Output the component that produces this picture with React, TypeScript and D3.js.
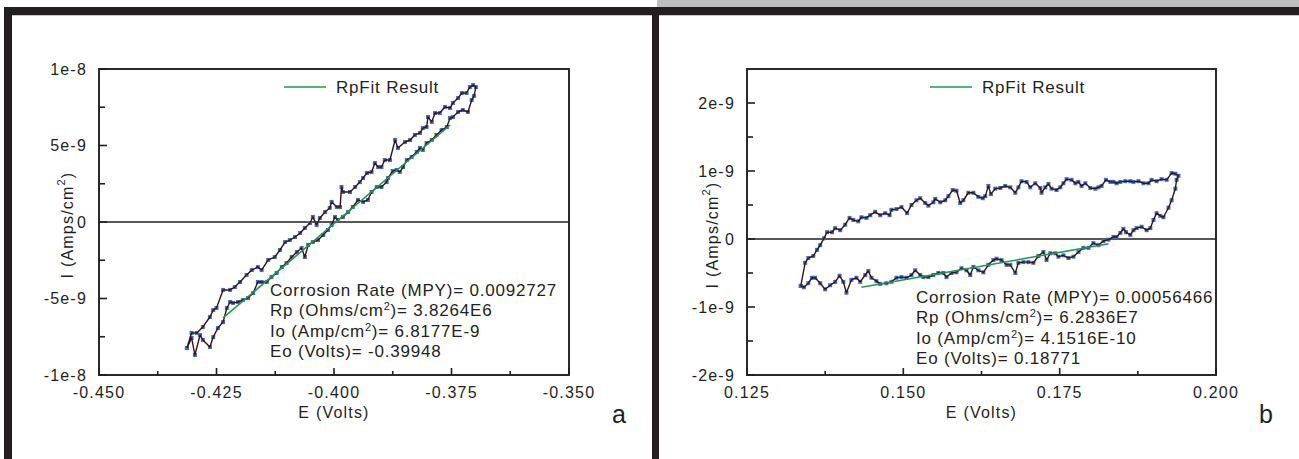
import React from 'react'
import * as d3 from 'd3'

const FONT = '"Liberation Sans", Arial, Helvetica, sans-serif'
const INK = '#231f20'
const TRACE = '#3a1212'
const DOTS = '#3f6cc8'
const FIT = '#1f9a4a'

// panel a: potential (V) and current (nA/cm2), loop
const aVolts = [
  -0.4313, -0.4303, -0.4292, -0.4279, -0.4264, -0.4257, -0.425, -0.4236, -0.4221, -0.4211,
  -0.42, -0.4186, -0.4175, -0.4162, -0.4154, -0.414, -0.4126, -0.4115, -0.4104, -0.4094,
  -0.4083, -0.4072, -0.4062, -0.4051, -0.4045, -0.4037, -0.403, -0.4019, -0.4009, -0.4005,
  -0.3994, -0.3987, -0.3984, -0.3981, -0.3966, -0.3955, -0.3945, -0.3938, -0.393, -0.392,
  -0.3913, -0.3906, -0.3899, -0.3892, -0.3881, -0.387, -0.3864, -0.3849, -0.3838, -0.3828,
  -0.3817, -0.3811, -0.3803, -0.38, -0.3792, -0.3785, -0.3775, -0.3764, -0.3753, -0.3747,
  -0.3736, -0.3728, -0.3718, -0.3711, -0.3704, -0.3698,
  -0.3702, -0.3707, -0.3715, -0.3726, -0.3736, -0.3747, -0.3753, -0.376, -0.3771, -0.3782,
  -0.3792, -0.3803, -0.3811, -0.3817, -0.3824, -0.3835, -0.3845, -0.3853, -0.386, -0.3867,
  -0.3875, -0.3885, -0.3888, -0.3899, -0.3909, -0.392, -0.3928, -0.3938, -0.3949, -0.396,
  -0.397, -0.3981, -0.3992, -0.3998, -0.4005, -0.4013, -0.4023, -0.4034, -0.4045, -0.4055,
  -0.4062, -0.4069, -0.4079, -0.409, -0.4101, -0.4111, -0.4122, -0.4133, -0.4143, -0.4154,
  -0.4162, -0.4172, -0.4183, -0.4194, -0.4204, -0.4215, -0.4221, -0.4228, -0.4236, -0.4247,
  -0.4257, -0.4264, -0.4279, -0.4285, -0.4296, -0.4303, -0.4313,
]
const aCurrent = [
  -8.24, -7.25, -7.25, -6.86, -6.21, -5.75, -5.62, -4.44, -4.44, -4.25,
  -3.92, -3.46, -3.14, -2.94, -3.14, -2.48, -2.29, -1.83, -1.31, -1.18,
  -0.98, -0.72, -0.39, -0.07, 0.33, -0.2, 0.26, 0.65, 0.92, 1.31,
  0.98, 0.98, 2.29, 1.96, 1.96, 2.29, 2.61, 2.88, 3.2, 3.27,
  3.86, 3.59, 3.59, 4.05, 4.05, 5.36, 4.84, 5.23, 5.36, 5.69,
  5.82, 6.14, 6.21, 6.86, 6.54, 7.12, 7.12, 7.52, 7.45, 7.78,
  8.1, 8.43, 8.43, 8.82, 8.95, 8.82,
  8.24, 7.97, 7.19, 7.32, 7.19, 6.86, 6.8, 6.21, 6.01, 5.69,
  5.36, 5.16, 4.71, 4.84, 4.58, 4.25, 4.05, 3.59, 3.27, 3.4,
  3.33, 2.88, 2.61, 2.29, 2.29, 1.96, 1.44, 1.31, 1.44, 0.98,
  0.65, 0.33, 0.13, 0.33, -0.2, -0.52, -0.85, -1.18, -1.31, -1.5,
  -2.29, -1.7, -1.96, -2.29, -2.68, -2.94, -3.33, -3.59, -3.92, -3.92,
  -3.92, -4.64, -4.97, -5.1, -5.23, -5.29, -5.23, -5.62, -6.54, -6.93,
  -7.52, -8.17, -7.71, -7.39, -8.69, -7.58, -8.24,
]
const aFitVolts = [-0.4236, -0.3753]
const aFitCurrent = [-6.27, 6.34]
const aXTicks = [-0.45, -0.425, -0.4, -0.375, -0.35]
const aXLabels = ['-0.450', '-0.425', '-0.400', '-0.375', '-0.350']
const aYTicks = [-10, -5, 0, 5, 10]
const aYLabels = ['-1e-8', '-5e-9', '0', '5e-9', '1e-8']
const aNotes = [
  ['Corrosion Rate (MPY)= 0.0092727'],
  ['Rp (Ohms/cm', '2', ')= 3.8264E6'],
  ['Io (Amp/cm', '2', ')= 6.8177E-9'],
  ['Eo (Volts)= -0.39948'],
]

// panel b
const bVolts = [
  0.1336, 0.1343, 0.1348, 0.1356, 0.1362, 0.1367, 0.1373, 0.1378, 0.1386, 0.1391,
  0.1399, 0.1407, 0.1414, 0.142, 0.1428, 0.1433, 0.1441, 0.1447, 0.1455, 0.1463,
  0.1471, 0.1478, 0.1481, 0.1489, 0.1497, 0.1506, 0.1513, 0.1521, 0.1527, 0.1535,
  0.154, 0.1548, 0.1551, 0.1559, 0.1567, 0.1572, 0.1579, 0.1585, 0.1591, 0.1596,
  0.1604, 0.1612, 0.162, 0.1627, 0.1631, 0.1636, 0.164, 0.1647, 0.1655, 0.1663,
  0.1671, 0.1679, 0.1684, 0.1689, 0.1697, 0.1703, 0.1711, 0.1719, 0.1721, 0.1727,
  0.1732, 0.1737, 0.1745, 0.1751, 0.1756, 0.1761, 0.1769, 0.1775, 0.178, 0.1785,
  0.1791, 0.1799, 0.1807, 0.1812, 0.1817, 0.1824, 0.1831, 0.1836, 0.1841, 0.1847,
  0.1855, 0.1863, 0.1868, 0.1876, 0.1884, 0.1892, 0.1897, 0.1905, 0.1913, 0.1921,
  0.1929, 0.1935, 0.194,
  0.1937, 0.1935, 0.1929, 0.1924, 0.1916, 0.1911, 0.1905, 0.19, 0.1895, 0.1889,
  0.1881, 0.1873, 0.1868, 0.1863, 0.1856, 0.1852, 0.1847, 0.1841, 0.1836, 0.1828,
  0.182, 0.1812, 0.1804, 0.1796, 0.1788, 0.178, 0.1772, 0.1764, 0.1756, 0.1748,
  0.1743, 0.1735, 0.1729, 0.1724, 0.1716, 0.1708, 0.17, 0.1692, 0.1684, 0.1679,
  0.1671, 0.1665, 0.1657, 0.1649, 0.1644, 0.1636, 0.1628, 0.162, 0.1612, 0.1607,
  0.1601, 0.1593, 0.1585, 0.1577, 0.1569, 0.1564, 0.1556, 0.1548, 0.154, 0.1532,
  0.1527, 0.1519, 0.1513, 0.1505, 0.1497, 0.1489, 0.1481, 0.1473, 0.1463, 0.1457,
  0.1449, 0.1444, 0.1439, 0.1431, 0.1425, 0.1417, 0.1409, 0.1404, 0.1398, 0.1391,
  0.1383, 0.1375, 0.1367, 0.1359, 0.1354, 0.1348, 0.1341, 0.1336,
]
const bCurrent = [
  -0.69, -0.35, -0.28, -0.25, -0.16, -0.09, 0.01, 0.1, 0.1, 0.16,
  0.13, 0.21, 0.31, 0.28, 0.26, 0.32, 0.31, 0.35, 0.4, 0.35,
  0.38, 0.35, 0.43, 0.44, 0.47, 0.38, 0.5, 0.57, 0.6, 0.53,
  0.49, 0.54, 0.59, 0.54, 0.57, 0.63, 0.72, 0.71, 0.53, 0.57,
  0.68, 0.68, 0.62, 0.6, 0.63, 0.78, 0.66, 0.74, 0.75, 0.78,
  0.76, 0.68, 0.76, 0.85, 0.84, 0.76, 0.82, 0.75, 0.68, 0.76,
  0.81, 0.74, 0.72, 0.76, 0.82, 0.88, 0.87, 0.82, 0.84, 0.78,
  0.82, 0.75, 0.74, 0.76, 0.78, 0.87, 0.84, 0.84, 0.82, 0.84,
  0.85, 0.85, 0.84, 0.85, 0.82, 0.82, 0.87, 0.85, 0.88, 0.87,
  0.97, 0.96, 0.93,
  0.87, 0.74, 0.57, 0.46, 0.32, 0.34, 0.38, 0.28, 0.16, 0.13,
  0.18, 0.16, 0.13, 0.06, 0.1, 0.15, 0.09, 0.03, 0.03, -0.01,
  -0.03, -0.09, -0.06, -0.13, -0.13, -0.19, -0.26, -0.28, -0.24, -0.26,
  -0.21, -0.21, -0.31, -0.19, -0.25, -0.35, -0.34, -0.34, -0.35, -0.5,
  -0.38, -0.38, -0.31, -0.29, -0.31, -0.38, -0.49, -0.46, -0.41, -0.53,
  -0.46, -0.43, -0.49, -0.5, -0.56, -0.5, -0.5, -0.53, -0.56, -0.56,
  -0.53, -0.46, -0.53, -0.57, -0.56, -0.57, -0.63, -0.65, -0.66, -0.62,
  -0.57, -0.47, -0.53, -0.63, -0.57, -0.6, -0.79, -0.63, -0.54, -0.63,
  -0.68, -0.74, -0.65, -0.57, -0.57, -0.65, -0.71, -0.69,
]
const bFitVolts = [0.1433, 0.1828]
const bFitCurrent = [-0.71, -0.07]
const bXTicks = [0.125, 0.15, 0.175, 0.2]
const bXLabels = ['0.125', '0.150', '0.175', '0.200']
const bYTicks = [-2, -1, 0, 1, 2]
const bYLabels = ['-2e-9', '-1e-9', '0', '1e-9', '2e-9']
const bNotes = [
  ['Corrosion Rate (MPY)= 0.00056466'],
  ['Rp (Ohms/cm', '2', ')= 6.2836E7'],
  ['Io (Amp/cm', '2', ')= 4.1516E-10'],
  ['Eo (Volts)= 0.18771'],
]

function Sup({ parts }) {
  // odd entries are superscripts
  return (
    <>
      {parts.map((p, i) =>
        i % 2 === 1 ? (
          <tspan key={i} dy={-6} fontSize="11">{p}</tspan>
        ) : (
          <tspan key={i} dy={i > 0 ? 6 : 0}>{p}</tspan>
        )
      )}
    </>
  )
}

function Panel(props) {
  const { box, xDomain, yDomain, xTicks, xLabels, yTicks, yLabels, volts, current,
    fitVolts, fitCurrent, notes, noteX, noteY, legendX, tag, tagX, yTitleX, yTitleY } = props

  const x = d3.scaleLinear().domain(xDomain).range([box.left, box.right])
  const y = d3.scaleLinear().domain(yDomain).range([box.bottom, box.top])
  const xMinor = d3.pairs(xTicks).map(([a, b]) => (a + b) / 2)
  const yMinor = d3.pairs(yTicks).map(([a, b]) => (a + b) / 2)

  const pts = volts.map((v, i) => [v, current[i]])
  const fit = fitVolts.map((v, i) => [v, fitCurrent[i]])
  const line = d3.line().x(d => x(d[0])).y(d => y(d[1]))
  const midX = (box.left + box.right) / 2

  return (
    <g fontFamily={FONT} fill={INK}>
      <line x1={box.left} x2={box.right} y1={y(0)} y2={y(0)} stroke={INK} strokeWidth={1.6} />

      {pts.map((d, i) => (
        <rect key={i} x={x(d[0]) - 2} y={y(d[1]) - 2} width={4} height={4} fill={DOTS} />
      ))}
      <path d={line(pts)} fill="none" stroke={TRACE} strokeWidth={1.4} strokeLinejoin="round" />
      <path d={line(fit)} fill="none" stroke={FIT} strokeWidth={1.6} />

      <rect x={box.left} y={box.top} width={box.right - box.left} height={box.bottom - box.top}
        fill="none" stroke={INK} strokeWidth={1.9} />

      {xTicks.map((t, i) => (
        <g key={'xt' + i}>
          <line x1={x(t)} x2={x(t)} y1={box.bottom} y2={box.bottom - 7} stroke={INK} strokeWidth={1.6} />
          <text x={x(t)} y={box.bottom + 23} textAnchor="middle" fontSize={16} letterSpacing={1.2}>
            {xLabels[i]}
          </text>
        </g>
      ))}
      {xMinor.map((t, i) => (
        <line key={'xm' + i} x1={x(t)} x2={x(t)} y1={box.bottom} y2={box.bottom - 4} stroke={INK} strokeWidth={1.6} />
      ))}
      {yTicks.map((t, i) => (
        <g key={'yt' + i}>
          <line x1={box.left} x2={box.left + 8} y1={y(t)} y2={y(t)} stroke={INK} strokeWidth={1.6} />
          <text x={box.left - 12} y={y(t)} textAnchor="end" dominantBaseline="central" fontSize={16} letterSpacing={1.2}>
            {yLabels[i]}
          </text>
        </g>
      ))}
      {yMinor.map((t, i) => (
        <line key={'ym' + i} x1={box.left} x2={box.left + 6} y1={y(t)} y2={y(t)} stroke={INK} strokeWidth={1.6} />
      ))}

      <text x={midX} y={box.bottom + 43} textAnchor="middle" fontSize={16} letterSpacing={1.2}>E (Volts)</text>
      <text transform={`translate(${yTitleX},${yTitleY}) rotate(-90)`} textAnchor="middle"
        dominantBaseline="central" fontSize={16} letterSpacing={1.2}>
        <Sup parts={['I (Amps/cm', '2', ')']} />
      </text>

      <line x1={legendX} x2={legendX + 42} y1={box.top + 18} y2={box.top + 18} stroke={FIT} strokeWidth={1.6} />
      <text x={legendX + 52} y={box.top + 24} fontSize={17} letterSpacing={0.8}>RpFit Result</text>

      {notes.map((parts, i) => (
        <text key={'n' + i} x={noteX} y={noteY + i * 20.3} fontSize={17} letterSpacing={0.8}>
          <Sup parts={parts} />
        </text>
      ))}

      <text x={tagX} y={box.bottom + 48} fontSize={25}>{tag}</text>
    </g>
  )
}

export default function App() {
  return (
    <svg width={1299} height={459} style={{ position: 'absolute', left: 0, top: 0, background: '#fff' }}>
      <rect x={657} y={0} width={642} height={7} fill="#bfbfbf" />
      <rect x={4} y={7} width={1295} height={8} fill={INK} />
      <rect x={12} y={15} width={640} height={1} fill="#c8c8c8" />
      <rect x={659} y={15} width={640} height={1} fill="#c8c8c8" />
      <rect x={4} y={7} width={8} height={452} fill={INK} />
      <rect x={652} y={7} width={7} height={452} fill={INK} />

      <Panel
        box={{ left: 99, right: 569, top: 69, bottom: 375 }}
        xDomain={[-0.45, -0.35]} yDomain={[-10, 10]}
        xTicks={aXTicks} xLabels={aXLabels} yTicks={aYTicks} yLabels={aYLabels}
        volts={aVolts} current={aCurrent} fitVolts={aFitVolts} fitCurrent={aFitCurrent}
        notes={aNotes} noteX={270} noteY={296} legendX={284}
        tag="a" tagX={612} yTitleX={67} yTitleY={225}
      />
      <Panel
        box={{ left: 747, right: 1216, top: 69, bottom: 375 }}
        xDomain={[0.125, 0.2]} yDomain={[-2, 2.5]}
        xTicks={bXTicks} xLabels={bXLabels} yTicks={bYTicks} yLabels={bYLabels}
        volts={bVolts} current={bCurrent} fitVolts={bFitVolts} fitCurrent={bFitCurrent}
        notes={bNotes} noteX={916} noteY={303} legendX={930}
        tag="b" tagX={1259} yTitleX={712} yTitleY={235}
      />
    </svg>
  )
}
